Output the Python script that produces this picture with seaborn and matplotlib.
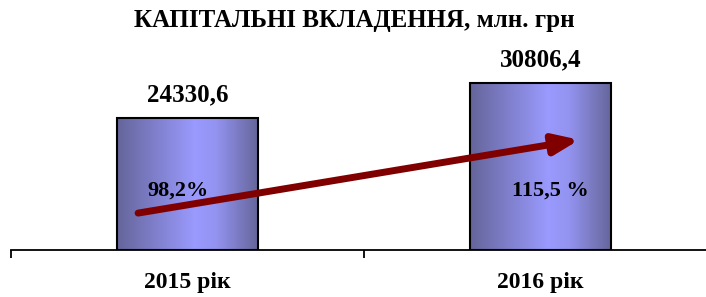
import matplotlib
matplotlib.use("Agg")
import matplotlib.pyplot as plt
import seaborn as sns
import numpy as np
import pandas as pd
from matplotlib.colors import LinearSegmentedColormap

# data
years = ["2015 рік", "2016 рік"]
values = [24330.6, 30806.4]
value_labels = ["24330,6", "30806,4"]
pct_labels = ["98,2%", "115,5 %"]
pct_y = 11000
arrow_from = (-0.14, 6800)
arrow_to = (1.11, 20300)

sns.set_style("white")
plt.rcParams["font.family"] = ["Liberation Serif", "DejaVu Serif"]
plt.rcParams["font.weight"] = "bold"
plt.rcParams["text.color"] = "black"
plt.rcParams["xtick.color"] = "black"

df = pd.DataFrame({"year": years, "value": values})

fig = plt.figure(figsize=(7.06, 2.97), dpi=100)
ax = fig.add_axes([11 / 706, 47 / 297, 706 / 706, 190 / 297])

sns.barplot(data=df, x="year", y="value", ax=ax, width=0.4,
            color="#9999ff", edgecolor="black", linewidth=1.5, zorder=2)

# horizontal gradient fill inside each bar
cmap = LinearSegmentedColormap.from_list(
    "bar", [(0, "#65659a"), (0.55, "#9a9aff"), (0.7, "#9393f0"), (1, "#65659a")])
grad = np.linspace(0, 1, 256).reshape(1, -1)
for p in ax.patches:
    x0, w, h = p.get_x(), p.get_width(), p.get_height()
    im = ax.imshow(grad, cmap=cmap, aspect="auto", extent=[x0, x0 + w, 0, h],
                   zorder=2.5)
    im.set_clip_path(p)
    p.set_facecolor("none")
    p.set_zorder(3)

ax.set_xlim(-0.5, 1.5)
ax.set_ylim(0, 35000)

for i, (v, lab) in enumerate(zip(values, value_labels)):
    ax.annotate(lab, (i, v), xytext=(0, 23), textcoords="offset pixels",
                ha="center", va="center", fontsize=18, fontweight="bold",
                color="black")

# percent labels sit a little off the bar centres
for i, (lab, dx) in enumerate(zip(pct_labels, [-10, 10])):
    ax.annotate(lab, (i, pct_y), xytext=(dx, 0), textcoords="offset pixels",
                ha="center", va="center", fontsize=16, fontweight="bold",
                color="black", zorder=4)

ax.annotate("", xy=arrow_to, xytext=arrow_from,
            arrowprops=dict(arrowstyle="-|>,head_length=1.5,head_width=0.6",
                            color="#800000", lw=5, shrinkA=0, shrinkB=0),
            zorder=5)

# axis styling
for s in ["top", "right", "left"]:
    ax.spines[s].set_visible(False)
ax.spines["bottom"].set_linewidth(1.3)
ax.spines["bottom"].set_color("black")
ax.set_yticks([])
ax.set_xticks([-0.5, 0.5, 1.5])
ax.set_xticklabels([])
ax.tick_params(axis="x", which="major", direction="out", length=6, width=1.3,
               bottom=True)
ax.set_xticks([0, 1], minor=True)
ax.set_xticklabels(years, minor=True, fontsize=17, fontweight="bold")
ax.tick_params(axis="x", which="minor", length=0, pad=16)
ax.set_xlabel("")
ax.set_ylabel("")

fig.text(354 / 706, 1 - 21 / 297, "КАПІТАЛЬНІ ВКЛАДЕННЯ, млн. грн",
         ha="center", va="center", fontsize=18, fontweight="bold")

fig.savefig("out.png", dpi=100)
